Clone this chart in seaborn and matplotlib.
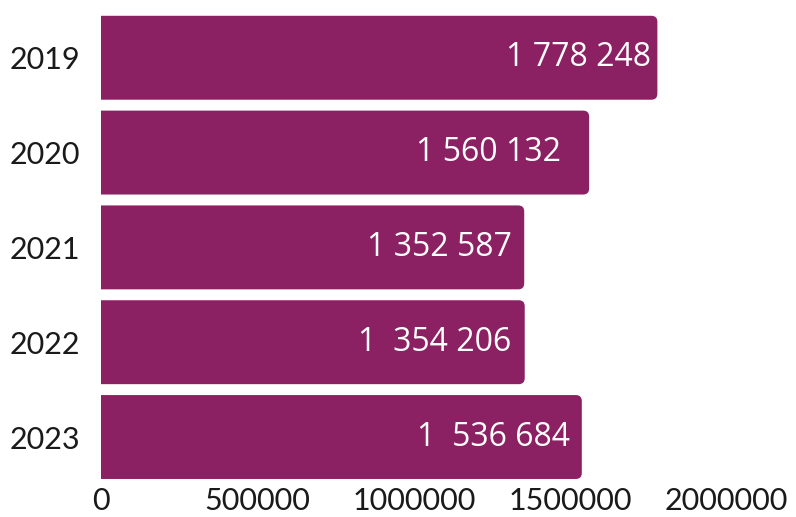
import matplotlib
matplotlib.use("Agg")
import matplotlib.pyplot as plt
import seaborn as sns
import pandas as pd
from matplotlib.patches import FancyBboxPatch

# data
annees = ["2019", "2020", "2021", "2022", "2023"]
valeurs = [1778248, 1560132, 1352587, 1354206, 1536684]
etiquettes = ["1 778 248", "1 560 132", "1 352 587", "1  354 206", "1  536 684"]
x_ticks = [0, 500000, 1000000, 1500000, 2000000]

couleur = "#8B2163"
# retrait des étiquettes depuis le bout de la barre (en pixels)
retraits = [6, 28, 12, 13, 12]

df = pd.DataFrame({"annee": annees, "valeur": valeurs})

sns.set_style("white")
plt.rcParams["font.family"] = ["Lato", "DejaVu Sans"]

fig = plt.figure(figsize=(7.96, 5.17), dpi=100)
ax = fig.add_axes([0.127, 0.063, 0.786, 0.917])

sns.barplot(data=df, x="valeur", y="annee", color=couleur, orient="h",
            width=0.885, saturation=1, ax=ax)

ax.set_xlim(0, 2000000)
ax.set_ylim(len(annees) - 0.5, -0.5)

# barres avec coins arrondis (gauche cachée sous l'axe)
px_x = 2000000 / (0.786 * 796)
px_y = len(annees) / (0.917 * 517)
r = 6 * px_x
for p in list(ax.patches):
    x, y, w, h = p.get_x(), p.get_y(), p.get_width(), p.get_height()
    p.set_visible(False)
    fb = FancyBboxPatch((x - 4 * r, y), w + 4 * r, h,
                        boxstyle=f"round,pad=0,rounding_size={r}",
                        mutation_aspect=px_y / px_x,
                        facecolor=couleur, edgecolor="none", clip_on=True)
    ax.add_patch(fb)

for i, (v, lab) in enumerate(zip(valeurs, etiquettes)):
    ax.text(v - retraits[i] * px_x, i, lab, ha="right", va="center",
            color="white", fontsize=23, family=["Open Sans", "DejaVu Sans"])

ax.set_xticks(x_ticks)
ax.set_xticklabels([str(t) for t in x_ticks])
ax.tick_params(axis="both", length=0, labelsize=22, colors="#1a1a1a")
ax.tick_params(axis="x", pad=2)
ax.tick_params(axis="y", pad=15)
ax.set_xlabel("")
ax.set_ylabel("")
sns.despine(ax=ax, left=True, bottom=True)

fig.savefig("out.png", dpi=100)
